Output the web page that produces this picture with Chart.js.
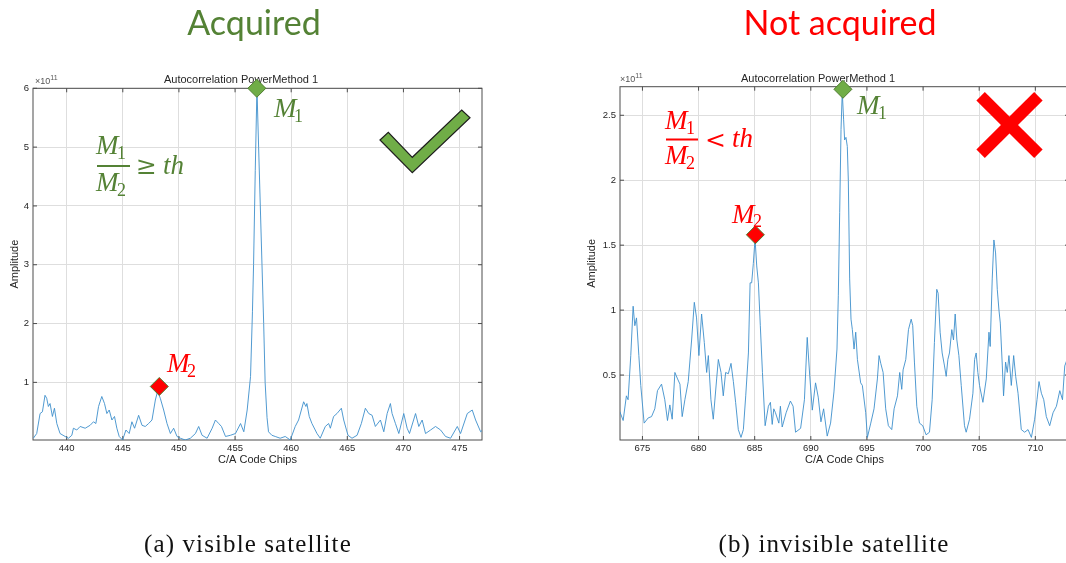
<!DOCTYPE html>
<html>
<head>
<meta charset="utf-8">
<script src="https://cdn.jsdelivr.net/npm/chart.js@4.4.0/dist/chart.umd.min.js"></script>
<style>
html, body { margin:0; padding:0; background:#fff; width:1066px; height:563px; overflow:hidden; }
body { position:relative; }
.plot { position:absolute; top:60px; height:420px; }
#overlay { position:absolute; left:0; top:0; pointer-events:none; }
.mi { font-family:"Liberation Serif", serif; font-style:italic; font-size:27px; }
.sb { font-family:"Liberation Serif", serif; font-size:18px; }
.op { font-family:"DejaVu Serif", serif; font-size:25px; }
.cap { font-family:"Liberation Serif", serif; font-size:25px; letter-spacing:1.1px; fill:#111; }
</style>
</head>
<body>
<div class="plot" style="left:0px;width:515px"><canvas id="chartA" width="515" height="420"></canvas></div>
<div class="plot" style="left:567px;width:535px"><canvas id="chartB" width="535" height="420"></canvas></div>

<svg id="overlay" width="1066" height="563" xmlns="http://www.w3.org/2000/svg">
  <!-- headings -->
  <text x="254" y="35" text-anchor="middle" font-family="Lato" font-size="34" fill="#548235">Acquired</text>
  <text x="840" y="35" text-anchor="middle" font-family="Lato" font-size="34" fill="#ff0000">Not acquired</text>

  <!-- exponent labels -->
  <text x="35" y="84" font-family="Liberation Sans" font-size="9" fill="#555">×10<tspan font-size="7" dy="-4">11</tspan></text>
  <text x="620" y="82" font-family="Liberation Sans" font-size="9" fill="#555">×10<tspan font-size="7" dy="-4">11</tspan></text>

  <!-- left: ratio >= th -->
  <g fill="#548235">
    <text class="mi" x="96" y="154">M</text><text class="sb" x="117" y="159">1</text>
    <rect x="97" y="165" width="33" height="2"/>
    <text class="mi" x="96" y="191">M</text><text class="sb" x="117" y="196">2</text>
    <text class="op" x="136" y="174">≥</text>
    <text class="mi" x="163" y="174">th</text>
    <text class="mi" x="274" y="117">M</text><text class="sb" x="294" y="122">1</text>
  </g>
  <g fill="#ff0000">
    <text class="mi" x="167" y="372">M</text><text class="sb" x="187" y="377">2</text>
  </g>
  <polygon points="380,140 388.3,132.3 412.3,157.3 461.7,110 470,117.7 412.3,172.7" fill="#70ad47" stroke="#1e1e1e" stroke-width="1.2"/>

  <!-- right: ratio < th -->
  <g fill="#ff0000">
    <text class="mi" x="665" y="129">M</text><text class="sb" x="686" y="134">1</text>
    <rect x="666" y="138.5" width="32" height="2"/>
    <text class="mi" x="665" y="164">M</text><text class="sb" x="686" y="169">2</text>
    <text class="op" x="705" y="148">&lt;</text>
    <text class="mi" x="732" y="147">th</text>
    <text class="mi" x="732" y="223">M</text><text class="sb" x="753" y="227">2</text>
  </g>
  <g fill="#548235">
    <text class="mi" x="857" y="114">M</text><text class="sb" x="878" y="119">1</text>
  </g>
  <g stroke="#ff0000" stroke-width="12" stroke-linecap="butt">
    <line x1="980.6" y1="96.3" x2="1038.4" y2="153.7"/>
    <line x1="1038.4" y1="96.3" x2="980.6" y2="153.7"/>
  </g>

  <!-- captions -->
  <text class="cap" x="248" y="552" text-anchor="middle">(a)  visible satellite</text>
  <text class="cap" x="834" y="552" text-anchor="middle">(b)  invisible satellite</text>
</svg>

<script>
// (a) visible satellite - correlation amplitude (x 1e11) vs code phase
chipsA = [437.03, 437.33, 437.63, 437.84, 438.07, 438.22, 438.37, 438.52, 438.73, 438.91,
          439.12, 439.41, 439.86, 440.16, 440.46, 440.6, 440.9, 441.2, 441.65, 442.09,
          442.39, 442.6, 442.84, 443.13, 443.37, 443.58, 443.79, 444.03, 444.26, 444.47,
          444.68, 444.98, 445.28, 445.57, 445.81, 446.05, 446.41, 446.71, 447.0, 447.3,
          447.6, 447.9, 448.1, 448.34, 448.64, 448.94, 449.24, 449.53, 449.83, 450.13,
          450.57, 451.02, 451.47, 451.76, 452.06, 452.51, 452.96, 453.25, 453.55, 453.79,
          454.15, 454.59, 455.04, 455.49, 455.78, 456.08, 456.38, 456.55, 456.65, 456.8,
          456.95, 457.1, 457.25, 457.4, 457.55, 457.68, 457.85, 457.98, 458.28, 458.58,
          459.02, 459.47, 459.92, 460.36, 460.66, 461.11, 461.31, 461.4, 461.61, 461.85,
          462.3, 462.59, 463.04, 463.34, 463.49, 463.78, 464.08, 464.47, 464.68, 465.06,
          465.42, 465.87, 466.25, 466.61, 466.91, 467.21, 467.5, 467.95, 468.25, 468.55,
          468.84, 468.99, 469.29, 469.59, 470.03, 470.33, 470.54, 471.08, 471.37, 471.67,
          471.97, 472.42, 472.86, 473.31, 473.75, 474.2, 474.8, 475.09, 475.69, 476.13,
          476.43, 476.88, 477.0];
ampA = [0.05, 0.13, 0.47, 0.5, 0.78, 0.73, 0.59, 0.64, 0.42, 0.56,
        0.3, 0.13, 0.08, 0.05, 0.1, 0.22, 0.19, 0.25, 0.22, 0.27,
        0.33, 0.3, 0.59, 0.76, 0.64, 0.47, 0.53, 0.36, 0.42, 0.22,
        0.08, 0.02, 0.19, 0.13, 0.33, 0.22, 0.44, 0.27, 0.25, 0.3,
        0.36, 0.7, 0.85, 0.73, 0.53, 0.3, 0.13, 0.22, 0.08, 0.05,
        0.02, 0.05, 0.13, 0.25, 0.1, 0.05, 0.22, 0.36, 0.3, 0.25,
        0.08, 0.1, 0.13, 0.3, 0.16, 0.53, 1.1, 2.2, 3.0, 4.6,
        6.0, 5.0, 4.0, 3.0, 2.0, 1.0, 0.4, 0.16, 0.1, 0.08,
        0.05, 0.08, 0.02, 0.25, 0.36, 0.67, 0.59, 0.64, 0.42, 0.3,
        0.13, 0.05, 0.25, 0.3, 0.22, 0.42, 0.47, 0.56, 0.36, 0.1,
        0.05, 0.1, 0.3, 0.56, 0.47, 0.44, 0.25, 0.36, 0.16, 0.47,
        0.64, 0.47, 0.3, 0.13, 0.47, 0.22, 0.13, 0.47, 0.25, 0.36,
        0.13, 0.19, 0.25, 0.19, 0.08, 0.05, 0.25, 0.13, 0.47, 0.53,
        0.36, 0.16, 0.18];
peakChipsA = [456.94, 448.25];   // M1, M2
peakAmpA = [6.0, 0.93];
xTicksA = [440, 445, 450, 455, 460, 465, 470, 475];
yTicksA = [1, 2, 3, 4, 5, 6];

// (b) invisible satellite
chipsB = [672.98, 673.28, 673.57, 673.72, 673.96, 674.17, 674.32, 674.47, 674.68, 674.85,
          675.15, 675.51, 675.81, 676.1, 676.34, 676.7, 676.99, 677.23, 677.44, 677.65,
          677.89, 678.13, 678.34, 678.54, 678.78, 679.08, 679.38, 679.62, 679.82, 680.03,
          680.27, 680.51, 680.72, 680.87, 681.1, 681.31, 681.61, 681.76, 682.0, 682.2,
          682.41, 682.65, 682.89, 683.1, 683.3, 683.54, 683.78, 683.99, 684.2, 684.44,
          684.59, 684.73, 684.88, 685.03, 685.18, 685.33, 685.5, 685.69, 685.93, 686.22,
          686.4, 686.56, 686.7, 686.85, 687.15, 687.29, 687.45, 687.8, 688.18, 688.42,
          688.64, 689.09, 689.43, 689.68, 689.9, 690.13, 690.42, 690.66, 690.9, 691.14,
          691.46, 691.76, 692.06, 692.33, 692.45, 692.57, 692.69, 692.8, 692.92, 693.01,
          693.13, 693.25, 693.34, 693.46, 693.58, 693.7, 693.85, 694.0, 694.15, 694.44,
          694.59, 694.89, 695.04, 695.34, 695.63, 695.93, 696.08, 696.23, 696.44, 696.67,
          696.91, 697.21, 697.42, 697.72, 697.92, 698.1, 698.22, 698.46, 698.7, 698.94,
          699.08, 699.23, 699.44, 699.68, 699.97, 700.27, 700.57, 700.81, 701.01, 701.22,
          701.34, 701.52, 701.7, 701.91, 702.06, 702.21, 702.35, 702.56, 702.71, 702.86,
          703.01, 703.19, 703.4, 703.69, 703.84, 704.14, 704.44, 704.59, 704.73, 704.88,
          705.03, 705.33, 705.63, 705.87, 705.98, 706.16, 706.31, 706.46, 706.61, 706.76,
          706.88, 707.06, 707.17, 707.35, 707.5, 707.65, 707.86, 708.07, 708.25, 708.46,
          708.75, 709.05, 709.35, 709.65, 709.94, 710.15, 710.33, 710.54, 710.75, 710.98,
          711.28, 711.58, 711.88, 712.18, 712.42, 712.62, 712.83, 713.0];
ampB = [0.22, 0.15, 0.34, 0.31, 0.65, 1.03, 0.88, 0.94, 0.65, 0.42,
        0.13, 0.17, 0.18, 0.24, 0.38, 0.43, 0.31, 0.15, 0.27, 0.16,
        0.52, 0.47, 0.43, 0.18, 0.31, 0.45, 0.77, 1.06, 0.94, 0.65,
        0.97, 0.75, 0.52, 0.65, 0.31, 0.16, 0.47, 0.62, 0.52, 0.34,
        0.52, 0.51, 0.59, 0.45, 0.29, 0.08, 0.02, 0.08, 0.34, 0.67,
        1.21, 1.21, 1.36, 1.55, 1.34, 1.21, 0.88, 0.52, 0.11, 0.26,
        0.29, 0.12, 0.24, 0.21, 0.13, 0.26, 0.1, 0.21, 0.3, 0.26,
        0.06, 0.09, 0.31, 0.79, 0.5, 0.23, 0.44, 0.33, 0.14, 0.24,
        0.03, 0.13, 0.37, 0.7, 1.11, 1.75, 2.39, 2.68, 2.47, 2.31,
        2.33, 2.26, 2.0, 1.24, 0.93, 0.85, 0.7, 0.83, 0.62, 0.44,
        0.42, 0.21, 0.02, 0.13, 0.24, 0.47, 0.65, 0.59, 0.52, 0.24,
        0.11, 0.08, 0.24, 0.34, 0.52, 0.39, 0.54, 0.62, 0.85, 0.93,
        0.88, 0.6, 0.26, 0.13, 0.11, 0.04, 0.06, 0.31, 0.75, 1.16,
        1.13, 0.83, 0.67, 0.57, 0.49, 0.62, 0.67, 0.85, 0.77, 0.97,
        0.77, 0.65, 0.42, 0.11, 0.06, 0.16, 0.36, 0.62, 0.67, 0.52,
        0.42, 0.29, 0.47, 0.83, 0.72, 1.24, 1.54, 1.44, 1.16, 1.0,
        0.9, 0.57, 0.34, 0.6, 0.52, 0.65, 0.42, 0.65, 0.49, 0.36,
        0.08, 0.06, 0.08, 0.02, 0.16, 0.31, 0.45, 0.36, 0.31, 0.18,
        0.11, 0.21, 0.26, 0.38, 0.31, 0.57, 0.62, 0.6];
peakChipsB = [692.86, 685.06];
peakAmpB = [2.70, 1.58];
xTicksB = [675, 680, 685, 690, 695, 700, 705, 710];
yTicksB = [0.5, 1, 1.5, 2, 2.5];

const axisColor = '#262626';

// MATLAB style box with inward ticks
const matlabBox = {
    id: 'matlabBox',
    beforeDatasetsDraw(chart) {
        const {ctx, chartArea: a, scales} = chart;
        ctx.save();
        ctx.strokeStyle = '#4d4d4d';
        ctx.lineWidth = 1;
        ctx.strokeRect(a.left, a.top, a.right - a.left, a.bottom - a.top);
        ctx.beginPath();
        scales.x.ticks.forEach(t => {
            const px = scales.x.getPixelForValue(t.value);
            ctx.moveTo(px, a.bottom); ctx.lineTo(px, a.bottom - 4);
            ctx.moveTo(px, a.top); ctx.lineTo(px, a.top + 4);
        });
        scales.y.ticks.forEach(t => {
            const py = scales.y.getPixelForValue(t.value);
            ctx.moveTo(a.left, py); ctx.lineTo(a.left + 4, py);
            ctx.moveTo(a.right, py); ctx.lineTo(a.right - 4, py);
        });
        ctx.stroke();
        ctx.restore();
    }
};

// axisW: width reserved left of the plot, plotTop: plot top inside canvas,
// titleMid: vertical centre of the title inside canvas, yTitleX: centre of "Amplitude"
function makeChart(id, chips, amps, peakX, peakY, xMin, xMax, yMin, yMax, xTicks, yTicks,
                   axisW, plotTop, titleMid, yTitleX) {
    const line = chips.map((c, i) => ({x: c, y: amps[i]}));
    const peaks = peakX.map((c, i) => ({x: c, y: peakY[i]}));
    const padTop = titleMid - 6.6;

    new Chart(id, {
        type: 'scatter',
        data: {
            datasets: [
                {
                    data: peaks,
                    pointStyle: 'rectRot',
                    pointRadius: 9,
                    pointBackgroundColor: ['#70ad47', '#ff0000'],
                    pointBorderColor: '#4e7d2f',
                    pointBorderWidth: 1,
                    clip: false
                },
                {
                    data: line,
                    showLine: true,
                    borderColor: '#3d8fcc',
                    borderWidth: 0.9,
                    pointRadius: 0,
                    tension: 0
                }
            ]
        },
        options: {
            responsive: false,
            animation: false,
            devicePixelRatio: 1,
            layout: {padding: {left: 0, right: 33, top: 0, bottom: 0}},
            plugins: {
                legend: {display: false},
                tooltip: {enabled: false},
                title: {
                    display: true,
                    text: 'Autocorrelation PowerMethod 1',
                    color: axisColor,
                    font: {family: 'Liberation Sans', size: 11, weight: 'normal'},
                    padding: {top: padTop, bottom: plotTop - 13.2 - padTop}
                }
            },
            scales: {
                x: {
                    type: 'linear',
                    min: xMin,
                    max: xMax,
                    afterFit: s => { s.height = 40; },
                    afterBuildTicks: s => { s.ticks = xTicks.map(v => ({value: v})); },
                    grid: {color: '#dedede', drawTicks: false},
                    border: {display: false},
                    ticks: {color: axisColor, padding: 3, maxRotation: 0,
                            font: {family: 'Liberation Sans', size: 9.5},
                            callback: v => String(v)},
                    title: {display: true, text: 'C/A Code Chips', color: axisColor,
                            font: {family: 'Liberation Sans', size: 11},
                            padding: {top: 0, bottom: 13.4}}
                },
                y: {
                    min: yMin,
                    max: yMax,
                    afterFit: s => { s.width = axisW; },
                    afterBuildTicks: s => { s.ticks = yTicks.map(v => ({value: v})); },
                    grid: {color: '#dedede', drawTicks: false},
                    border: {display: false},
                    ticks: {color: axisColor, padding: 4,
                            font: {family: 'Liberation Sans', size: 9.5},
                            callback: v => String(v)},
                    title: {display: true, text: 'Amplitude', color: axisColor,
                            font: {family: 'Liberation Sans', size: 11},
                            padding: {top: yTitleX - 6.6, bottom: 0}}
                }
            }
        },
        plugins: [matlabBox]
    });
}

makeChart('chartA', chipsA, ampA, peakChipsA, peakAmpA, 437, 477, 0.02, 6, xTicksA, yTicksA,
          33, 28.3, 19.6, 15);
makeChart('chartB', chipsB, ampB, peakChipsB, peakAmpB, 673, 713, 0, 2.72, xTicksB, yTicksB,
          53, 26.7, 19.3, 25);
</script>
</body>
</html>
